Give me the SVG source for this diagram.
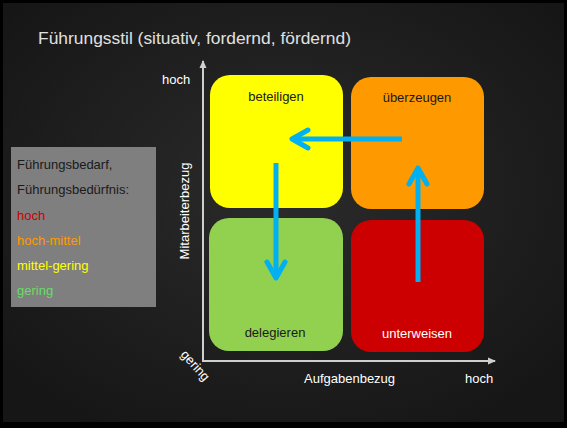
<svg xmlns="http://www.w3.org/2000/svg" width="567" height="428" viewBox="0 0 567 428">
<defs>
<radialGradient id="bg" cx="50%" cy="45%" r="65%">
<stop offset="0" stop-color="#2b2b2b"/>
<stop offset="1" stop-color="#161616"/>
</radialGradient>
<marker id="ax" markerWidth="9" markerHeight="9" refX="7" refY="4" orient="auto" markerUnits="userSpaceOnUse">
<path d="M0,0.5 L8,4 L0,7.5 Z" fill="#cfcfcf"/>
</marker>
<style>
.t{font-family:"Liberation Sans",Arial,sans-serif;font-size:13px}
.w{fill:#ffffff}
.d{fill:#1a1a1a}
.axis{stroke:#cfcfcf;stroke-width:2;fill:none}
.arr{stroke:#00b0f0;stroke-width:5;fill:none;stroke-linecap:butt}
.head{stroke:#00b0f0;stroke-width:5;fill:none;stroke-linecap:round;stroke-linejoin:round}
</style>
</defs>
<rect x="0" y="0" width="567" height="428" fill="#000"/>
<rect x="3" y="3" width="561" height="419" fill="url(#bg)"/>
<text x="38" y="44" style="font-family:'Liberation Sans',Arial,sans-serif;font-size:17px;fill:#e0e0e0" textLength="313" lengthAdjust="spacingAndGlyphs">Führungsstil (situativ, fordernd, fördernd)</text>

<g id="axes">
<line class="axis" x1="203" y1="361" x2="203" y2="61" marker-end="url(#ax)"/>
<line class="axis" x1="202" y1="361" x2="495" y2="361" marker-end="url(#ax)"/>
<text class="t w" x="162" y="84">hoch</text>
<text class="t w" x="304" y="383">Aufgabenbezug</text>
<text class="t w" x="465" y="383">hoch</text>
<text class="t w" transform="translate(180,355) rotate(48)">gering</text>
<text class="t w" text-anchor="middle" transform="translate(189,211) rotate(-90)">Mitarbeiterbezug</text>
</g>

<g id="legend">
<rect x="11" y="147" width="145" height="160" fill="#7f7f7f"/>
<text class="t d" x="17" y="169">Führungsbedarf,</text>
<text class="t d" x="17" y="194">Führungsbedürfnis:</text>
<text class="t" x="17" y="220" fill="#cc0000">hoch</text>
<text class="t" x="17" y="245" fill="#ff9900">hoch-mittel</text>
<text class="t" x="17" y="270" fill="#ffff00">mittel-gering</text>
<text class="t" x="17" y="295" fill="#66dd66">gering</text>
</g>

<g id="beteiligen">
<rect x="210" y="75" width="133" height="133" rx="20" fill="#ffff00"/>
<text class="t d" x="276" y="101" text-anchor="middle">beteiligen</text>
</g>
<g id="ueberzeugen">
<rect x="351" y="77" width="133" height="132" rx="20" fill="#ff9900"/>
<text class="t d" x="417" y="102" text-anchor="middle">überzeugen</text>
</g>
<g id="delegieren">
<rect x="209" y="218" width="134" height="133" rx="20" fill="#92d050"/>
<text class="t d" x="275" y="337" text-anchor="middle">delegieren</text>
</g>
<g id="unterweisen">
<rect x="351" y="220" width="133" height="132" rx="20" fill="#cc0000"/>
<text class="t w" x="417" y="338" text-anchor="middle">unterweisen</text>
</g>

<g id="connectors">
<line class="arr" x1="402" y1="139" x2="293" y2="139"/>
<polyline class="head" points="308,130 292,139 308,148"/>
<line class="arr" x1="418" y1="282" x2="418" y2="169"/>
<polyline class="head" points="409,184 418,168 427,184"/>
<line class="arr" x1="276" y1="163" x2="276" y2="277"/>
<polyline class="head" points="267,262 276,278 285,262"/>
</g>
</svg>
